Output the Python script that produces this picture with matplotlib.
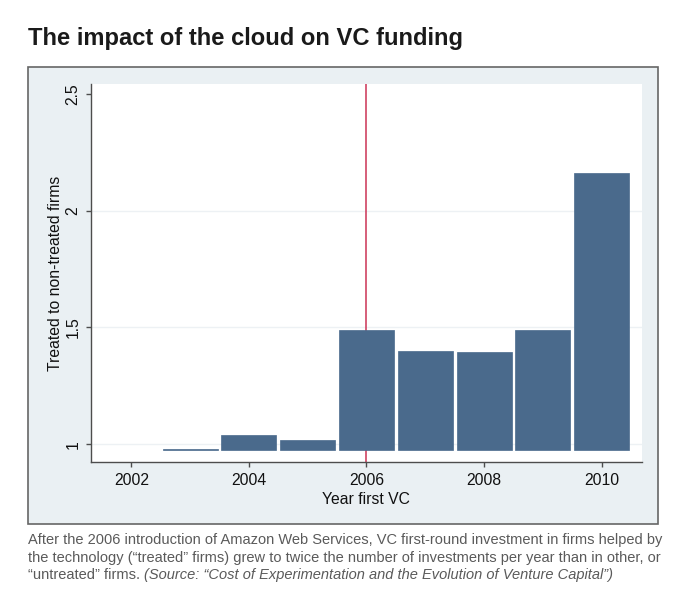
import matplotlib
matplotlib.use('Agg')
import matplotlib.pyplot as plt
from matplotlib.patches import Rectangle

# values
years = [2003, 2004, 2005, 2006, 2007, 2008, 2009, 2010]
ratio = [0.980, 1.038, 1.018, 1.488, 1.401, 1.397, 1.488, 2.160]
bar_base = 0.977
xticks = [2002, 2004, 2006, 2008, 2010]
yticks = [1, 1.5, 2, 2.5]
ytick_labels = ['1', '1.5', '2', '2.5']
event_year = 2006

title = 'The impact of the cloud on VC funding'
caption_lines = [
    'After the 2006 introduction of Amazon Web Services, VC first-round investment in firms helped by',
    'the technology (\u201ctreated\u201d firms) grew to twice the number of investments per year than in other, or',
    '\u201cuntreated\u201d firms. ',
]
caption_source = '(Source: \u201cCost of Experimentation and the Evolution of Venture Capital\u201d)'

narrow = ['Liberation Sans Narrow', 'Liberation Sans', 'DejaVu Sans']
plt.rcParams['font.family'] = ['Liberation Sans', 'DejaVu Sans']

W, H = 680, 590
fig = plt.figure(figsize=(W / 100, H / 100), dpi=100)
fig.patch.set_facecolor('white')

# grey graph region with border (Stata look)
frame = Rectangle((28.3 / W, 1 - 524.3 / H), (658 - 28.3) / W, (524.3 - 66.7) / H,
                  transform=fig.transFigure, facecolor='#eaf0f3',
                  edgecolor='#666666', linewidth=1.2, zorder=-1)
fig.add_artist(frame)

ax = fig.add_axes([91 / W, 1 - 462.3 / H, (641.7 - 91) / W, (462.3 - 83.5) / H])
ax.set_zorder(1)
ax.set_facecolor('white')
ymin, ymax = 0.923, 2.544
ax.set_xlim(2001.315, 2010.68)
ax.set_ylim(ymin, ymax)

for y in [1, 1.5, 2]:
    ax.axhline(y, color='#edf1f4', linewidth=1.0, zorder=1)

ax.axvline(event_year, color='#cc3355', linewidth=1.1, zorder=2)

heights = [r - bar_base for r in ratio]
ax.bar(years, heights, bottom=bar_base, width=0.937, color='#4a6a8c',
       edgecolor='#4a6a8c', linewidth=0.5, zorder=3)

for s in ['top', 'right']:
    ax.spines[s].set_visible(False)
for s in ['left', 'bottom']:
    ax.spines[s].set_color('#4d4d4d')
    ax.spines[s].set_linewidth(1.0)

ax.set_xticks(xticks)
ax.set_xticklabels([str(x) for x in xticks])
ax.set_yticks(yticks)
ax.set_yticklabels(ytick_labels)
ax.tick_params(axis='both', direction='out', length=3.6, width=1.0, color='#4d4d4d',
               labelsize=11.3, labelcolor='#111111', pad=3.8)
for lab in ax.get_yticklabels():
    lab.set_rotation(90)
    lab.set_va('center')
    lab.set_ha('right')

ax.set_xlabel('Year first VC', fontsize=11.3, color='#111111', labelpad=3.5)
ax.set_ylabel('Treated to non-treated firms', fontsize=11.3, color='#111111', labelpad=2)

fig.text(28.3 / W, 1 - 45 / H, title, fontsize=17.1, fontweight='bold',
         family=narrow, color='#1a1a1a', ha='left', va='baseline')

line_y = [544, 561.7, 579.3]
for txt, y in zip(caption_lines, line_y):
    t = fig.text(28.3 / W, 1 - y / H, txt, fontsize=10.5, family=narrow,
                 color='#5a5a5a', ha='left', va='baseline')

fig.canvas.draw()
bb = t.get_window_extent(renderer=fig.canvas.get_renderer())
fig.text(bb.x1 / fig.bbox.width, 1 - line_y[-1] / H, caption_source, fontsize=10.5,
         family=narrow, style='italic', color='#5a5a5a', ha='left', va='baseline')

fig.savefig('out.png', dpi=100)
